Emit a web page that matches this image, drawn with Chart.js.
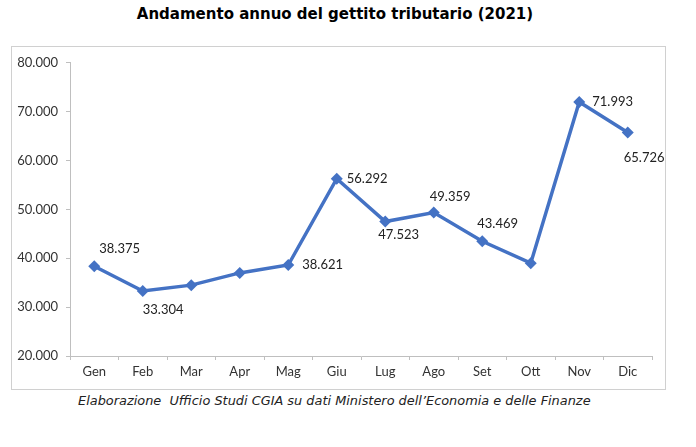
<!DOCTYPE html>
<html lang="it">
<head>
<meta charset="utf-8">
<title>Andamento annuo del gettito tributario (2021)</title>
<script src="https://cdn.jsdelivr.net/npm/chart.js@4/dist/chart.umd.min.js"></script>
<style>
    html, body { margin: 0; padding: 0; background: #ffffff; }
    body { width: 696px; height: 447px; position: relative; overflow: hidden; }
    .titolo {
        position: absolute; left: 0; top: 5px; width: 670px;
        text-align: center;
        font: bold 15px "DejaVu Sans", Verdana, sans-serif;
        color: #000;
    }
    .riquadro {
        position: absolute; left: 11px; top: 46px;
        width: 655px; height: 344px;
        border: 1px solid #d0d0d0; box-sizing: border-box;
    }
    .fonte {
        position: absolute; left: 78px; top: 393px;
        font: italic 12.9px "DejaVu Sans", sans-serif;
        color: #222;
        white-space: nowrap;
    }
</style>
</head>
<body>
<div class="titolo">Andamento annuo del gettito tributario (2021)</div>
<div class="riquadro"><canvas id="gettito" width="653" height="342"></canvas></div>
<div class="fonte">Elaborazione&nbsp; Ufficio Studi CGIA su dati Ministero dell’Economia e delle Finanze</div>

<script>
// Dati (milioni di euro)
const mesi = ['Gen', 'Feb', 'Mar', 'Apr', 'Mag', 'Giu', 'Lug', 'Ago', 'Set', 'Ott', 'Nov', 'Dic'];
const gettito = [38375, 33304, 34500, 37000, 38621, 56292, 47523, 49359, 43469, 39000, 71993, 65726];
const mostraEtichetta = [true, true, false, false, true, true, true, true, true, false, true, true];
const tickAsseY = [20000, 30000, 40000, 50000, 60000, 70000, 80000];

// Spostamento delle etichette rispetto al punto (solo stile)
const posEtichette = [
    [5, -17], [0, 19], null, null, [14, 0], [10, 0],
    [-7, 13], [-4, -16], [-5, -18], null, [13, 0], [-4, 25]
];

const BLU = '#4472C4';
const GRIGIO = '#bfbfbf';
const FONT_ASSI = { family: 'Lato, "Open Sans", sans-serif', size: 13 };

// formato italiano: 38.375
const formatta = v => String(Math.round(v)).replace(/\B(?=(\d{3})+(?!\d))/g, '.');

const etichettePlugin = {
    id: 'etichetteValori',
    afterDatasetsDraw(chart) {
        const ctx = chart.ctx;
        const meta = chart.getDatasetMeta(0);
        ctx.save();
        ctx.font = '13px ' + FONT_ASSI.family;
        ctx.fillStyle = '#222222';
        ctx.textAlign = 'left';
        ctx.textBaseline = 'middle';
        meta.data.forEach((pt, i) => {
            if (!mostraEtichetta[i] || !posEtichette[i]) return;
            const [dx, dy] = posEtichette[i];
            ctx.fillText(formatta(gettito[i]), pt.x + dx, pt.y + dy);
        });
        ctx.restore();
    }
};

new Chart(document.getElementById('gettito'), {
    type: 'line',
    data: {
        labels: mesi,
        datasets: [{
            data: gettito,
            borderColor: BLU,
            backgroundColor: BLU,
            borderWidth: 3.5,
            pointStyle: 'rectRot',
            pointRadius: 6,
            pointHoverRadius: 6,
            pointBorderWidth: 0,
            tension: 0
        }]
    },
    options: {
        responsive: false,
        animation: false,
        layout: { padding: { top: 14, right: 13, left: 0, bottom: 0 } },
        plugins: {
            legend: { display: false },
            tooltip: { enabled: false }
        },
        scales: {
            x: {
                offset: true,
                grid: {
                    offset: true,
                    drawOnChartArea: false,
                    drawTicks: true,
                    tickLength: 4,
                    color: GRIGIO
                },
                border: { color: GRIGIO, width: 1 },
                ticks: { color: '#333333', font: FONT_ASSI, padding: 4, maxRotation: 0 },
                afterFit(scale) { scale.height = 33; }
            },
            y: {
                min: tickAsseY[0],
                max: tickAsseY[tickAsseY.length - 1],
                afterBuildTicks(scale) { scale.ticks = tickAsseY.map(v => ({ value: v })); },
                grid: {
                    drawOnChartArea: false,
                    drawTicks: true,
                    tickLength: 4,
                    color: GRIGIO
                },
                border: { color: GRIGIO, width: 1 },
                ticks: {
                    color: '#333333',
                    font: FONT_ASSI,
                    padding: 8,
                    callback: v => formatta(v)
                },
                afterFit(scale) { scale.width = 58; }
            }
        }
    },
    plugins: [etichettePlugin]
});
</script>
</body>
</html>
